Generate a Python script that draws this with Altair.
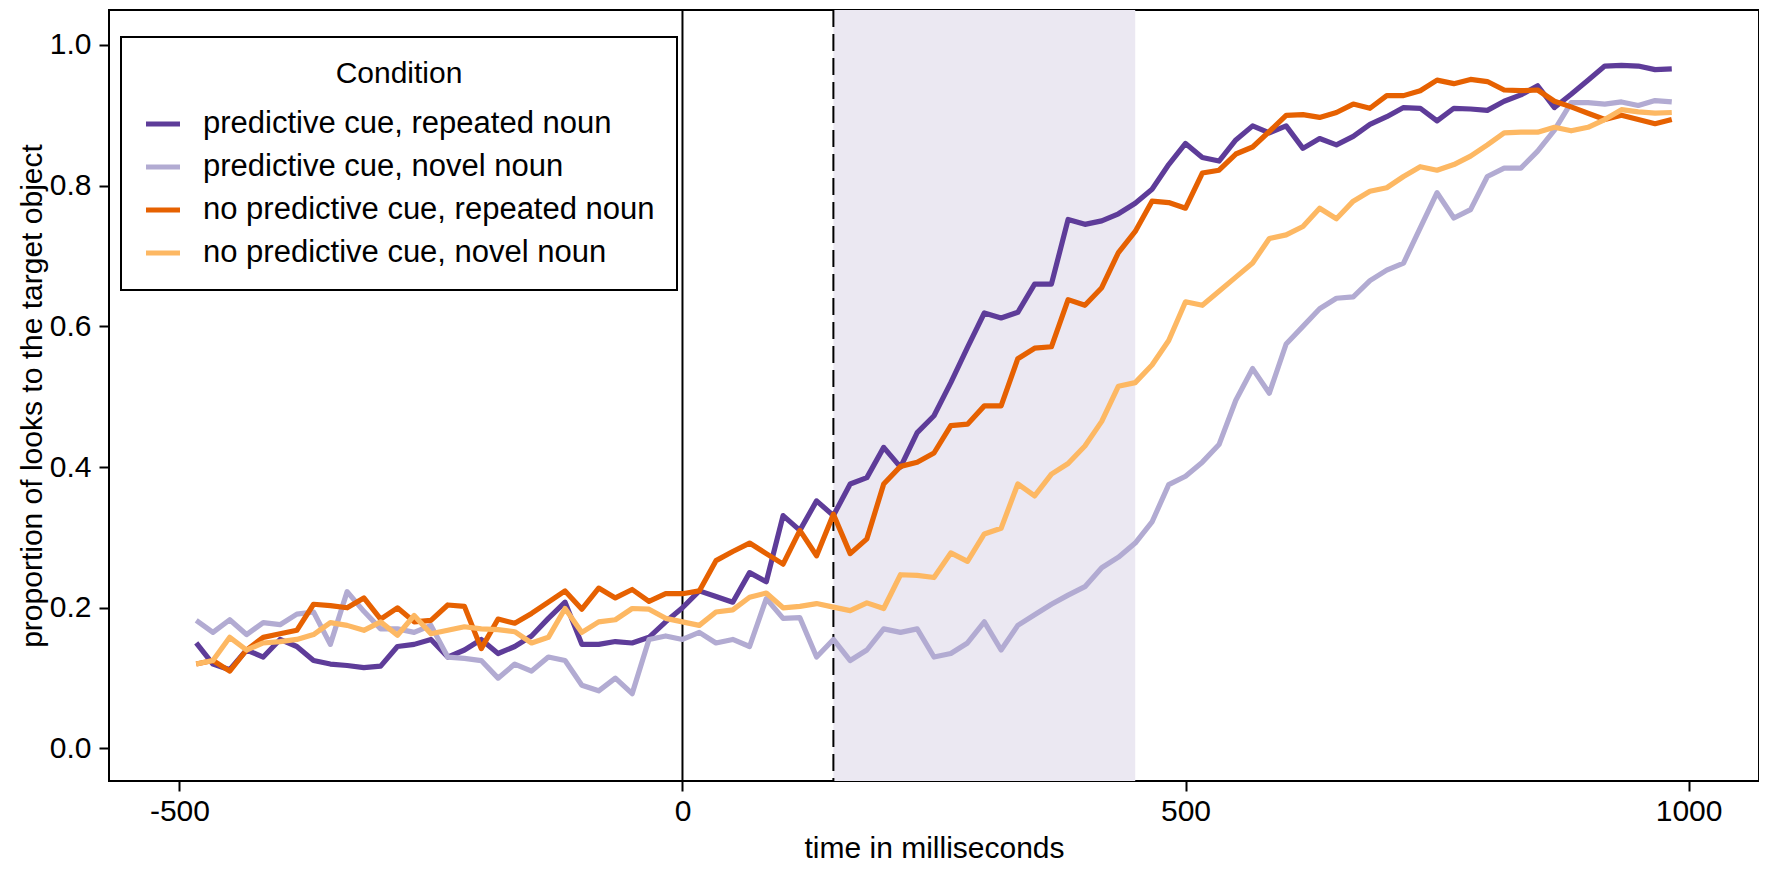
import altair as alt
import pandas as pd

# ---------------- data ----------------
series_names = [
    "predictive cue, repeated noun",
    "predictive cue, novel noun",
    "no predictive cue, repeated noun",
    "no predictive cue, novel noun",
]
series_colors = ["#5E3C99", "#B2ABD2", "#E66101", "#FDB863"]

# 60 Hz eye-tracker samples (ms)
times = [round(-483.333 + 16.6667 * k, 1) for k in range(89)]

pred_rep = [
    0.150, 0.120, 0.112, 0.140, 0.130, 0.155, 0.145, 0.125, 0.120, 0.118,
    0.115, 0.117, 0.145, 0.148, 0.155, 0.130, 0.140, 0.155, 0.135, 0.145,
    0.160, 0.185, 0.208, 0.148, 0.148, 0.152, 0.150, 0.158, 0.180, 0.200,
    0.224, 0.216, 0.208, 0.250, 0.237, 0.331, 0.310, 0.352, 0.331, 0.376,
    0.385, 0.428, 0.400, 0.449, 0.473, 0.520, 0.570, 0.619, 0.612, 0.620,
    0.660, 0.660, 0.752, 0.745, 0.750, 0.760, 0.775, 0.795, 0.830, 0.860,
    0.840, 0.835, 0.865, 0.885, 0.875, 0.885, 0.853, 0.867, 0.858, 0.870,
    0.887, 0.898, 0.911, 0.910, 0.892, 0.910, 0.909, 0.907, 0.920, 0.929,
    0.942, 0.911, 0.930, 0.950, 0.970, 0.971, 0.970, 0.965, 0.966,
]
pred_nov = [
    0.182, 0.165, 0.183, 0.162, 0.179, 0.176, 0.191, 0.194, 0.148, 0.223,
    0.195, 0.170, 0.170, 0.165, 0.175, 0.130, 0.128, 0.125, 0.100, 0.120,
    0.110, 0.130, 0.125, 0.090, 0.082, 0.100, 0.078, 0.155, 0.160, 0.155,
    0.165, 0.150, 0.155, 0.145, 0.213, 0.185, 0.186, 0.130, 0.155, 0.125,
    0.140, 0.170, 0.165, 0.170, 0.130, 0.135, 0.150, 0.180, 0.140, 0.175,
    0.190, 0.205, 0.218, 0.230, 0.257, 0.272, 0.292, 0.322, 0.375, 0.387,
    0.407, 0.432, 0.495, 0.540, 0.505, 0.575, 0.600, 0.625, 0.640, 0.642,
    0.665, 0.680, 0.690, 0.740, 0.790, 0.754, 0.766, 0.813, 0.825, 0.825,
    0.849, 0.879, 0.918, 0.918, 0.916, 0.919, 0.914, 0.921, 0.919,
]
nopred_rep = [
    0.120, 0.125, 0.110, 0.140, 0.158, 0.163, 0.168, 0.205, 0.203, 0.200,
    0.214, 0.184, 0.200, 0.180, 0.182, 0.204, 0.202, 0.142, 0.184, 0.178,
    0.192, 0.208, 0.224, 0.198, 0.228, 0.214, 0.226, 0.209, 0.220, 0.220,
    0.224, 0.267, 0.280, 0.292, 0.277, 0.262, 0.310, 0.274, 0.333, 0.277,
    0.298, 0.376, 0.401, 0.407, 0.420, 0.459, 0.461, 0.487, 0.487, 0.554,
    0.569, 0.571, 0.638, 0.630, 0.655, 0.705, 0.735, 0.778, 0.776, 0.768,
    0.818, 0.822, 0.845, 0.855, 0.877, 0.900, 0.901, 0.897, 0.904, 0.916,
    0.910, 0.928, 0.928, 0.935, 0.950, 0.945, 0.951, 0.948, 0.936, 0.935,
    0.936, 0.920, 0.912, 0.903, 0.894, 0.900, 0.894, 0.888, 0.894,
]
nopred_nov = [
    0.120, 0.125, 0.158, 0.140, 0.150, 0.152, 0.155, 0.162, 0.179, 0.175,
    0.168, 0.180, 0.161, 0.189, 0.163, 0.168, 0.173, 0.170, 0.169, 0.166,
    0.150, 0.158, 0.199, 0.165, 0.180, 0.183, 0.199, 0.198, 0.185, 0.180,
    0.175, 0.194, 0.197, 0.215, 0.221, 0.200, 0.202, 0.206, 0.201, 0.196,
    0.207, 0.199, 0.247, 0.246, 0.243, 0.278, 0.266, 0.305, 0.313, 0.376,
    0.359, 0.390, 0.405, 0.430, 0.465, 0.515, 0.520, 0.545, 0.580, 0.635,
    0.630, 0.650, 0.670, 0.690, 0.725, 0.730, 0.742, 0.768, 0.753, 0.778,
    0.792, 0.797, 0.813, 0.827, 0.822, 0.830, 0.842, 0.858, 0.875, 0.876,
    0.876, 0.883, 0.878, 0.883, 0.894, 0.908, 0.905, 0.903, 0.904,
]

onset_ms = [0]          # solid vertical line
cue_ms = [150]          # dashed vertical line
window_ms = [150, 450]  # shaded analysis window

x_ticks = [-500, 0, 500, 1000]
y_ticks = [0.0, 0.2, 0.4, 0.6, 0.8, 1.0]

# ---------------- build tables ----------------
rows = []
for name, vals in zip(series_names, [pred_rep, pred_nov, nopred_rep, nopred_nov]):
    for t, v in zip(times, vals):
        rows.append({"time": t, "prop": v, "condition": name})
df = pd.DataFrame(rows)

W, H = 1650, 771
FONT = "Liberation Sans"

xscale = alt.Scale(domain=[-570, 1070], nice=False, zero=False)
yscale = alt.Scale(domain=[-0.0462, 1.0497], nice=False, zero=False)

x_axis = alt.Axis(values=x_ticks, labelExpr="'' + datum.value",
                  title="time in milliseconds", labelPadding=5, titlePadding=7)
y_axis = alt.Axis(values=y_ticks, format=".1f",
                  title="proportion of looks to the target object",
                  labelPadding=8, titlePadding=2)

color = alt.Color(
    "condition:N",
    scale=alt.Scale(domain=series_names, range=series_colors),
    legend=alt.Legend(
        title="Condition", orient="none", legendX=12, legendY=27,
        titleFontSize=30, titleFontWeight="normal", titleFont=FONT,
        titleAnchor="middle", titleAlign="center", titlePadding=15,
        labelFontSize=31, labelFont=FONT, labelLimit=800, labelOffset=20,
        symbolType="stroke", symbolSize=1156, symbolStrokeWidth=5.2,
        rowPadding=8, padding=22,
        strokeColor="black", fillColor="white",
    ),
)

shade = alt.Chart(pd.DataFrame({"a": [window_ms[0]], "b": [window_ms[1]]})).mark_rect(
    color="#EBE8F2"
).encode(
    x=alt.X("a:Q", scale=xscale, axis=x_axis),
    x2="b:Q",
    y=alt.value(0),
    y2=alt.value(H),
)

rule0 = alt.Chart(pd.DataFrame({"t": onset_ms})).mark_rule(
    color="black", strokeWidth=2
).encode(x=alt.X("t:Q", scale=xscale, axis=x_axis))

rule150 = alt.Chart(pd.DataFrame({"t": cue_ms})).mark_rule(
    color="black", strokeWidth=2, strokeDash=[17, 7]
).encode(x=alt.X("t:Q", scale=xscale, axis=x_axis))

line_layers = []
for name in series_names:
    line_layers.append(
        alt.Chart(df[df["condition"] == name]).mark_line(
            strokeWidth=5.2, strokeJoin="round"
        ).encode(
            x=alt.X("time:Q", scale=xscale, axis=x_axis),
            y=alt.Y("prop:Q", scale=yscale, axis=y_axis),
            color=color,
        )
    )

chart = alt.layer(shade, rule0, rule150, *line_layers).properties(
    width=W, height=H,
    padding={"left": 9, "top": 1, "right": 0, "bottom": 2},
).configure(font=FONT).configure_view(
    stroke="black", strokeWidth=2
).configure_axis(
    grid=False, domain=False,
    labelFont=FONT, labelFontSize=30, labelColor="black",
    titleFont=FONT, titleFontSize=30, titleFontWeight="normal", titleColor="black",
    tickColor="black", tickWidth=2, tickSize=10,
).configure_legend(
    strokeWidth=2
)

chart.save("out.html", embed_options={"renderer": "svg", "actions": False})
